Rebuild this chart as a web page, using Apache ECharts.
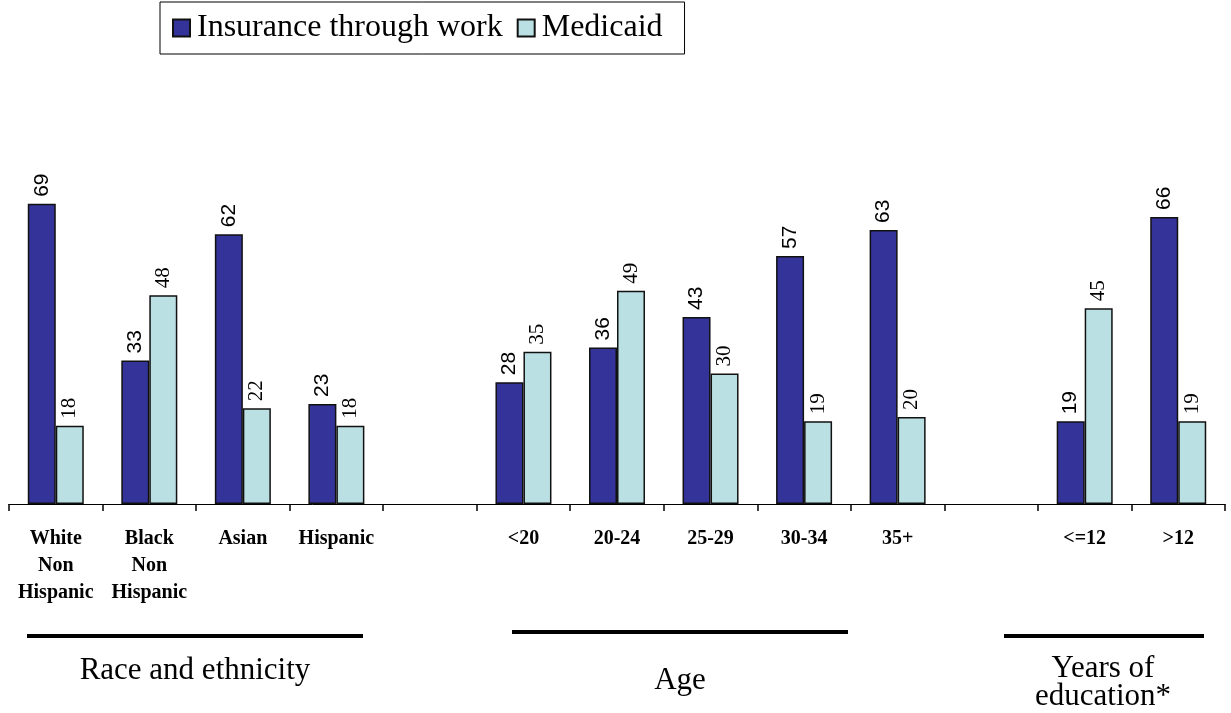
<!DOCTYPE html>
<html>
<head>
<meta charset="utf-8">
<script src="https://cdn.jsdelivr.net/npm/echarts@6/dist/echarts.min.js"></script>
<style>
html,body{margin:0;padding:0;background:#fff;}
#chart{width:1231px;height:713px;}
</style>
</head>
<body>
<div id="chart"></div>
<script>
const categories = ['White\nNon\nHispanic', 'Black\nNon\nHispanic', 'Asian', 'Hispanic', '', '<20', '20-24', '25-29', '30-34', '35+', '', '<=12', '>12'];
const seriesNames = ['Insurance through work', 'Medicaid'];
const workValues = [69, 33, 62, 23, null, 28, 36, 43, 57, 63, null, 19, 66];
const medicaidValues = [18, 48, 22, 18, null, 35, 49, 30, 19, 20, null, 45, 19];
const groupLabels = ['Race and ethnicity', 'Age', 'Years of\neducation*'];

const chart = echarts.init(document.getElementById('chart'), null, {renderer: 'canvas'});

const serif = '"Liberation Serif", "Times New Roman", serif';
const sans = '"Liberation Sans", Arial, sans-serif';

function barSeries(name, data, color, font, size) {
  return {
    name: name,
    type: 'bar',
    data: data,
    barWidth: 28,
    barGap: '0%',
    itemStyle: {color: color, borderColor: '#111', borderWidth: 1.5},
    label: {
      show: true,
      position: 'top',
      rotate: 90,
      align: 'left',
      verticalAlign: 'middle',
      distance: 7,
      fontFamily: font,
      fontSize: size,
      color: '#000'
    },
    emphasis: {disabled: true}
  };
}

chart.setOption({
  animation: false,
  backgroundColor: '#fff',
  legend: {
    left: 160,
    top: 2,
    data: seriesNames,
    orient: 'horizontal',
    icon: 'rect',
    itemWidth: 17,
    itemHeight: 17,
    itemGap: 14,
    borderColor: '#000',
    borderWidth: 1,
    padding: [10, 22, 10, 12],
    textStyle: {fontFamily: serif, fontSize: 32, color: '#000', padding: [0, 0, 0, 2]},
    selectedMode: false
  },
  grid: {left: 9, right: 6, top: 156, bottom: 209, containLabel: false},
  xAxis: {
    type: 'category',
    data: categories,
    axisLine: {show: true, lineStyle: {color: '#000', width: 1}},
    axisTick: {show: true, length: 7, lineStyle: {color: '#000', width: 1.5}},
    axisLabel: {
      interval: 0,
      margin: 21,
      fontFamily: serif,
      fontWeight: 'bold',
      fontSize: 20,
      lineHeight: 27,
      color: '#000'
    }
  },
  yAxis: {type: 'value', min: 0, max: 80, show: false, splitLine: {show: false}},
  series: [
    barSeries(seriesNames[0], workValues, '#333399', sans, 21),
    barSeries(seriesNames[1], medicaidValues, '#BBE0E3', serif, 21)
  ],
  graphic: [
    {type: 'rect', shape: {x: 27, y: 634, width: 336, height: 4}, style: {fill: '#000'}},
    {type: 'rect', shape: {x: 512, y: 630, width: 336, height: 4}, style: {fill: '#000'}},
    {type: 'rect', shape: {x: 1004, y: 634, width: 200, height: 4}, style: {fill: '#000'}},
    {type: 'text', style: {text: groupLabels[0], x: 195, y: 671, align: 'center', verticalAlign: 'middle', font: '31px ' + serif, fill: '#000'}},
    {type: 'text', style: {text: groupLabels[1], x: 680, y: 681, align: 'center', verticalAlign: 'middle', font: '31px ' + serif, fill: '#000'}},
    {type: 'text', style: {text: groupLabels[2], x: 1103, y: 683, align: 'center', verticalAlign: 'middle', font: '31px ' + serif, lineHeight: 28, fill: '#000'}}
  ]
});
</script>
</body>
</html>
